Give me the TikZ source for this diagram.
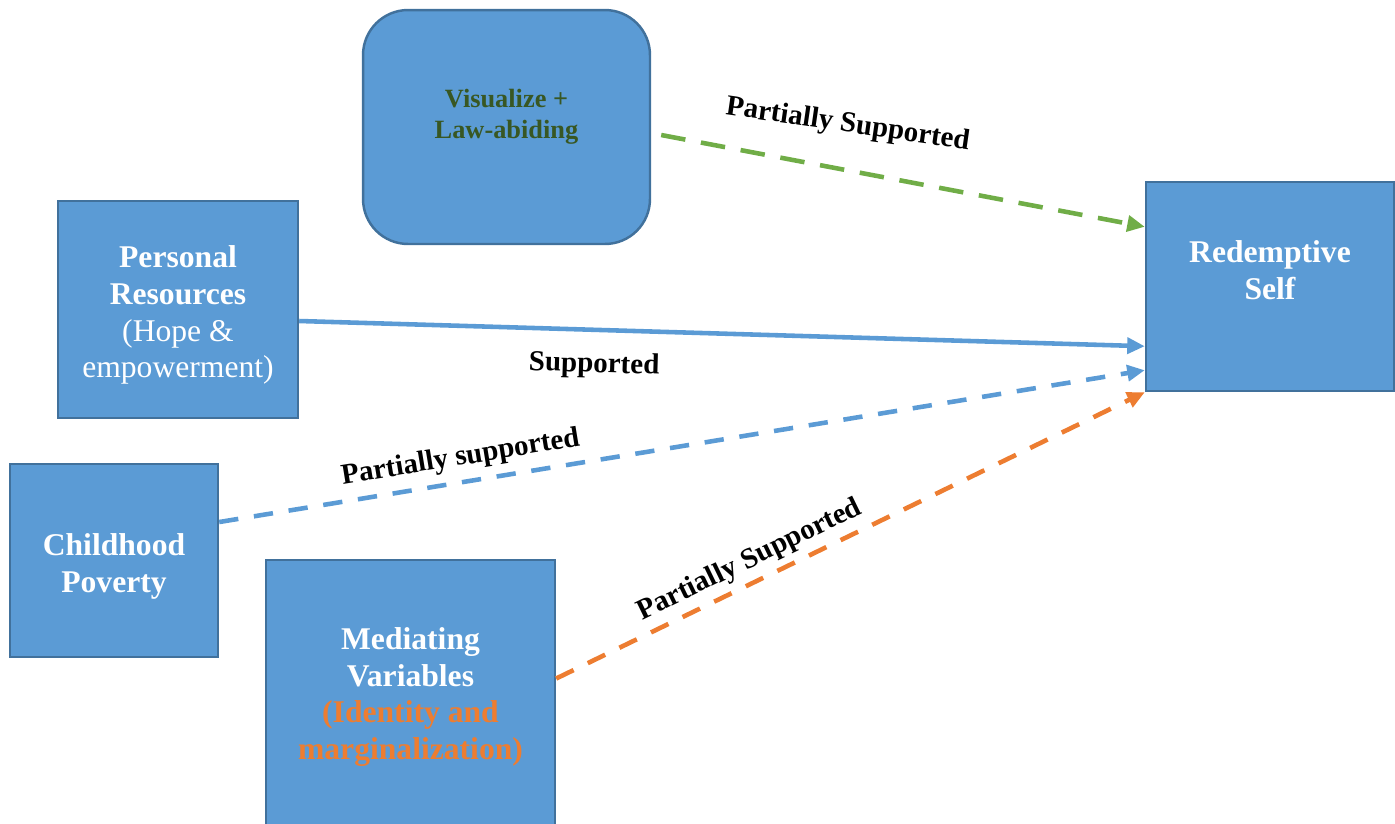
\documentclass[tikz,border=0pt]{standalone}
\usepackage{fontspec}
\setmainfont{Liberation Serif}
\usetikzlibrary{arrows.meta}
\definecolor{boxblue}{HTML}{5B9BD5}
\definecolor{boxedge}{HTML}{41719C}
\definecolor{linkgreen}{HTML}{70AD47}
\definecolor{darkgreen}{HTML}{385723}
\definecolor{linkorange}{HTML}{ED7D31}
\tikzset{
  box/.style={draw=boxedge, line width=1.4pt, fill=boxblue, inner sep=0pt},
  boxtext/.style={align=center, inner sep=0pt, text=white,
    font=\fontsize{18}{21}\selectfont\bfseries},
  link/.style={line width=2.6pt, -{Triangle[length=10pt,width=9pt]}},
  lab/.style={sloped, inner sep=0pt, text=black,
    font=\fontsize{16.5}{19}\selectfont\bfseries}
}

\begin{document}
\begin{tikzpicture}[x=0.02cm,y=-0.02cm]
      \useasboundingbox (0,0) rectangle (1395,823);

      \node[box, rounded corners=0.9cm, minimum width=5.74cm, minimum height=4.68cm,
        label={[boxtext, text=darkgreen, font=\fontsize{15}{17.6}\selectfont\bfseries, yshift=0.21cm]center:Visualize +\\Law-abiding}] (vis) at (506.5,127) {};
      \node[box, minimum width=4.96cm, minimum height=4.18cm,
        label={[boxtext, yshift=0.32cm]center:Redemptive\\Self}] (redemp) at (1270,286.5) {};
      \node[box, minimum width=4.8cm, minimum height=4.34cm,
        label={[boxtext, yshift=-0.11cm]center:Personal\\Resources\\{\mdseries (Hope \&}\\{\mdseries empowerment)}}] (personal) at (178,309.5) {};
      \node[box, minimum width=4.16cm, minimum height=3.86cm,
        label={[boxtext, yshift=-0.11cm]center:Childhood\\Poverty}] (child) at (114,560.5) {};
      \node[box, minimum width=5.78cm, minimum height=5.36cm,
        label={[boxtext, yshift=-0.06cm]center:Mediating\\Variables\\{\color{linkorange}(Identity and}\\{\color{linkorange}marginalization)}}] (mediate) at (410.5,694) {};

      \draw[link, draw=linkgreen, dash pattern=on 14pt off 9pt]
        ([xshift=0.2cm,yshift=-0.16cm]vis.east) -- node[lab, pos=0.37, above=0.58cm, rotate=2.5] {Partially Supported}
        ([yshift=-0.92cm]redemp.north west);
      \draw[link, draw=boxblue]
        ([yshift=-0.23cm]personal.east) -- node[lab, pos=0.35, below=0.4cm] {Supported}
        ([yshift=0.92cm]redemp.south west);
      \draw[link, draw=boxblue, dash pattern=on 11pt off 9pt]
        ([yshift=0.77cm]child.east) -- node[lab, pos=0.265, above=0.17cm] {Partially supported}
        ([yshift=0.44cm]redemp.south west);
      \draw[link, draw=linkorange, dash pattern=on 11pt off 9pt]
        ([yshift=0.31cm]mediate.east) -- node[lab, pos=0.345, above=0.12cm] {Partially Supported}
        (redemp.south west);
    \end{tikzpicture}
\end{document}
